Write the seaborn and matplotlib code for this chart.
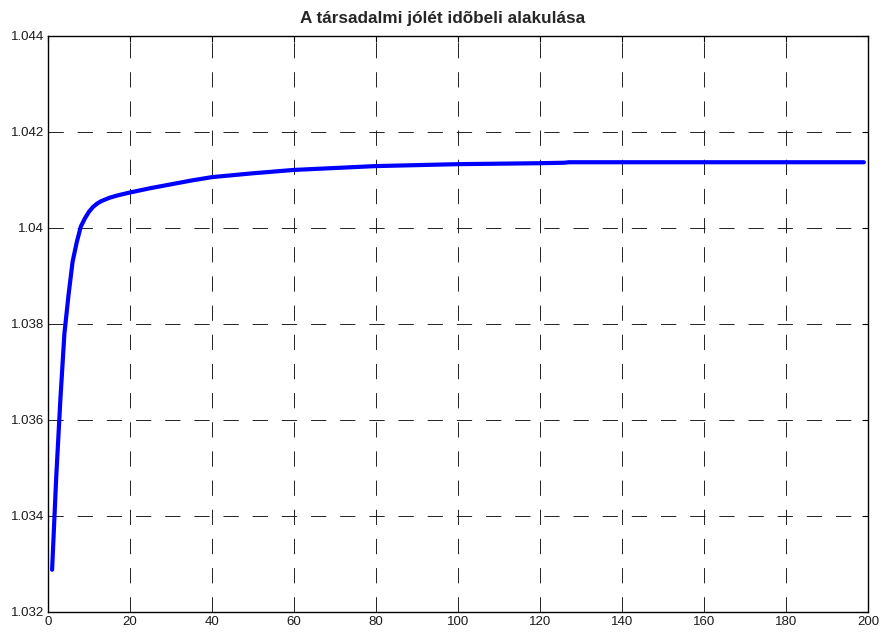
import matplotlib
matplotlib.use("Agg")
import matplotlib.pyplot as plt
import seaborn as sns
import pandas as pd

# Social welfare over time
periods = [1, 2, 3, 4, 5, 6, 7, 8, 9, 10, 11, 12, 13, 15, 17, 20, 25, 30, 35,
           40, 50, 60, 70, 80, 90, 100, 110, 120, 126, 127, 140, 160, 180, 199]
welfare = [1.03288, 1.0348, 1.0364, 1.0378, 1.0386, 1.0393, 1.0397, 1.04003,
           1.0402, 1.04034, 1.04044, 1.04051, 1.04056, 1.04063, 1.04068,
           1.04074, 1.04083, 1.04091, 1.04099, 1.04106, 1.04114, 1.04121,
           1.04125, 1.04129, 1.04131, 1.04133, 1.04134, 1.04135, 1.04136,
           1.04137, 1.04137, 1.04137, 1.04137, 1.04137]

x_ticks = [0, 20, 40, 60, 80, 100, 120, 140, 160, 180, 200]
y_ticks = [1.032, 1.034, 1.036, 1.038, 1.040, 1.042, 1.044]
y_tick_labels = ["1.032", "1.034", "1.036", "1.038", "1.04", "1.042", "1.044"]
title = "A társadalmi jólét idõbeli alakulása"

sns.set_style("white")
plt.rcParams["font.family"] = ["Liberation Sans", "DejaVu Sans"]
plt.rcParams["lines.scale_dashes"] = False

df = pd.DataFrame({"t": periods, "w": welfare})

fig = plt.figure(figsize=(8.83, 6.33), dpi=100)
ax = fig.add_axes([48 / 883, 1 - 612 / 633, 820 / 883, 576 / 633])

sns.lineplot(data=df, x="t", y="w", ax=ax, color="#0000ff", linewidth=3.0,
             zorder=3)

ax.set_xlim(0, 200)
ax.set_ylim(1.032, 1.044)
ax.set_xticks(x_ticks)
ax.set_xticklabels([str(v) for v in x_ticks])
ax.set_yticks(y_ticks)
ax.set_yticklabels(y_tick_labels)
ax.set_xlabel("")
ax.set_ylabel("")

ax.grid(True, color="#222222", linewidth=0.7, linestyle=(0, (11, 10)),
        zorder=1)
ax.tick_params(direction="in", length=4, width=0.8, colors="black",
               labelsize=9.5, top=True, right=True, pad=3)
for label in ax.get_xticklabels() + ax.get_yticklabels():
    label.set_color("#1a1a1a")
for side in ax.spines.values():
    side.set_visible(True)
    side.set_color("black")
    side.set_linewidth(1.0)

ax.set_title(title, fontsize=12.3, fontweight="bold", pad=9, x=0.481)

fig.savefig("out.png", dpi=100)
